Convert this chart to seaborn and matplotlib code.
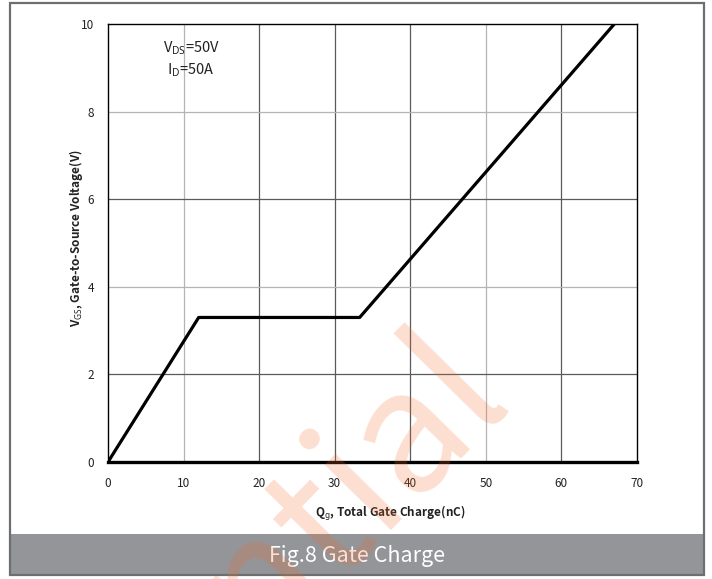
import numpy as np
import matplotlib
matplotlib.use("Agg")
import matplotlib.pyplot as plt
import seaborn as sns
from matplotlib.patches import Rectangle

# Gate charge curve (nC, V)
qg = [0, 12.0, 33.3, 67.0]
vgs = [0, 3.3, 3.3, 10.0]

x_ticks = [0, 10, 20, 30, 40, 50, 60, 70]
y_ticks = [0, 2, 4, 6, 8, 10]

W, H = 712, 579

sns.set_style("white")
plt.rcParams['font.family'] = ['Noto Sans CJK SC', 'DejaVu Sans']
plt.rcParams['mathtext.fontset'] = 'custom'
plt.rcParams['mathtext.rm'] = 'Noto Sans'
plt.rcParams['mathtext.bf'] = 'Noto Sans:bold'

fig = plt.figure(figsize=(W / 100, H / 100), dpi=100)
ax = fig.add_axes([108 / W, 1 - 462 / H, (637 - 108) / W, (462 - 24) / H])

ax.set_xlim(0, 70)
ax.set_ylim(0, 10)
ax.set_xticks(x_ticks)
ax.set_yticks(y_ticks)
ax.tick_params(axis='x', length=0, labelsize=8.5, colors='#222222', pad=11)
ax.tick_params(axis='y', length=0, labelsize=8.5, colors='#222222', pad=10)

# grid (alternating shades like the original scan)
v_shade = {10: '#b4b4b4', 20: '#5a5a5a', 30: '#5a5a5a', 40: '#5a5a5a', 50: '#b4b4b4', 60: '#5a5a5a'}
h_shade = {2: '#5a5a5a', 4: '#b4b4b4', 6: '#5a5a5a', 8: '#b4b4b4'}
for xv, c in v_shade.items():
    ax.axvline(xv, color=c, lw=0.9, zorder=1)
for yv, c in h_shade.items():
    ax.axhline(yv, color=c, lw=0.9, zorder=1)

sns.lineplot(x=qg, y=vgs, ax=ax, color='black', lw=2.3, zorder=3)

for s in ['left', 'top', 'right']:
    ax.spines[s].set_color('black')
    ax.spines[s].set_linewidth(1.0)
ax.spines['bottom'].set_color('black')
ax.spines['bottom'].set_linewidth(2.4)
ax.spines['bottom'].set_zorder(4)

ax.set_xlabel(r'Q$_{\mathbf{g}}$, Total Gate Charge(nC)', fontsize=8.5, fontweight='bold',
              color='#222222')
ax.xaxis.set_label_coords((390 - 108) / 529, -0.095)
ax.set_ylabel(r'V$_{\mathbf{GS}}$, Gate-to-Source Voltage(V)', fontsize=8.5, fontweight='bold',
              color='#222222', va='center')
ax.yaxis.set_label_coords(-(108 - 76) / 529, (462 - 238) / 438)

ax.text(11, 9.45, r'V$_{\mathrm{DS}}$=50V', fontsize=10.5, ha='center', va='center', color='#222222')
ax.text(11, 8.95, r'I$_{\mathrm{D}}$=50A', fontsize=10.5, ha='center', va='center', color='#222222')

# banner and frame
fig.patches.append(Rectangle((10 / W, 1 - 575 / H), (704 - 10) / W, (575 - 534) / H,
                             transform=fig.transFigure, facecolor='#939598', edgecolor='none', zorder=0))
fig.patches.append(Rectangle((10 / W, 1 - 575 / H), (704 - 10) / W, (575 - 3) / H,
                             transform=fig.transFigure, facecolor='none', edgecolor='#6d6e70', lw=1.6, zorder=5))
fig.text(357 / W, 1 - 556 / H, 'Fig.8 Gate Charge', fontsize=15.5, color='white',
         ha='center', va='center')

# watermark
fig.text(511 / W, 1 - 398 / H, 'Confidential', fontsize=122,
         color='#F26B2A', alpha=0.22, ha='right', va='baseline',
         rotation=45.5, rotation_mode='anchor', zorder=10)

fig.savefig('out.png', dpi=100)
